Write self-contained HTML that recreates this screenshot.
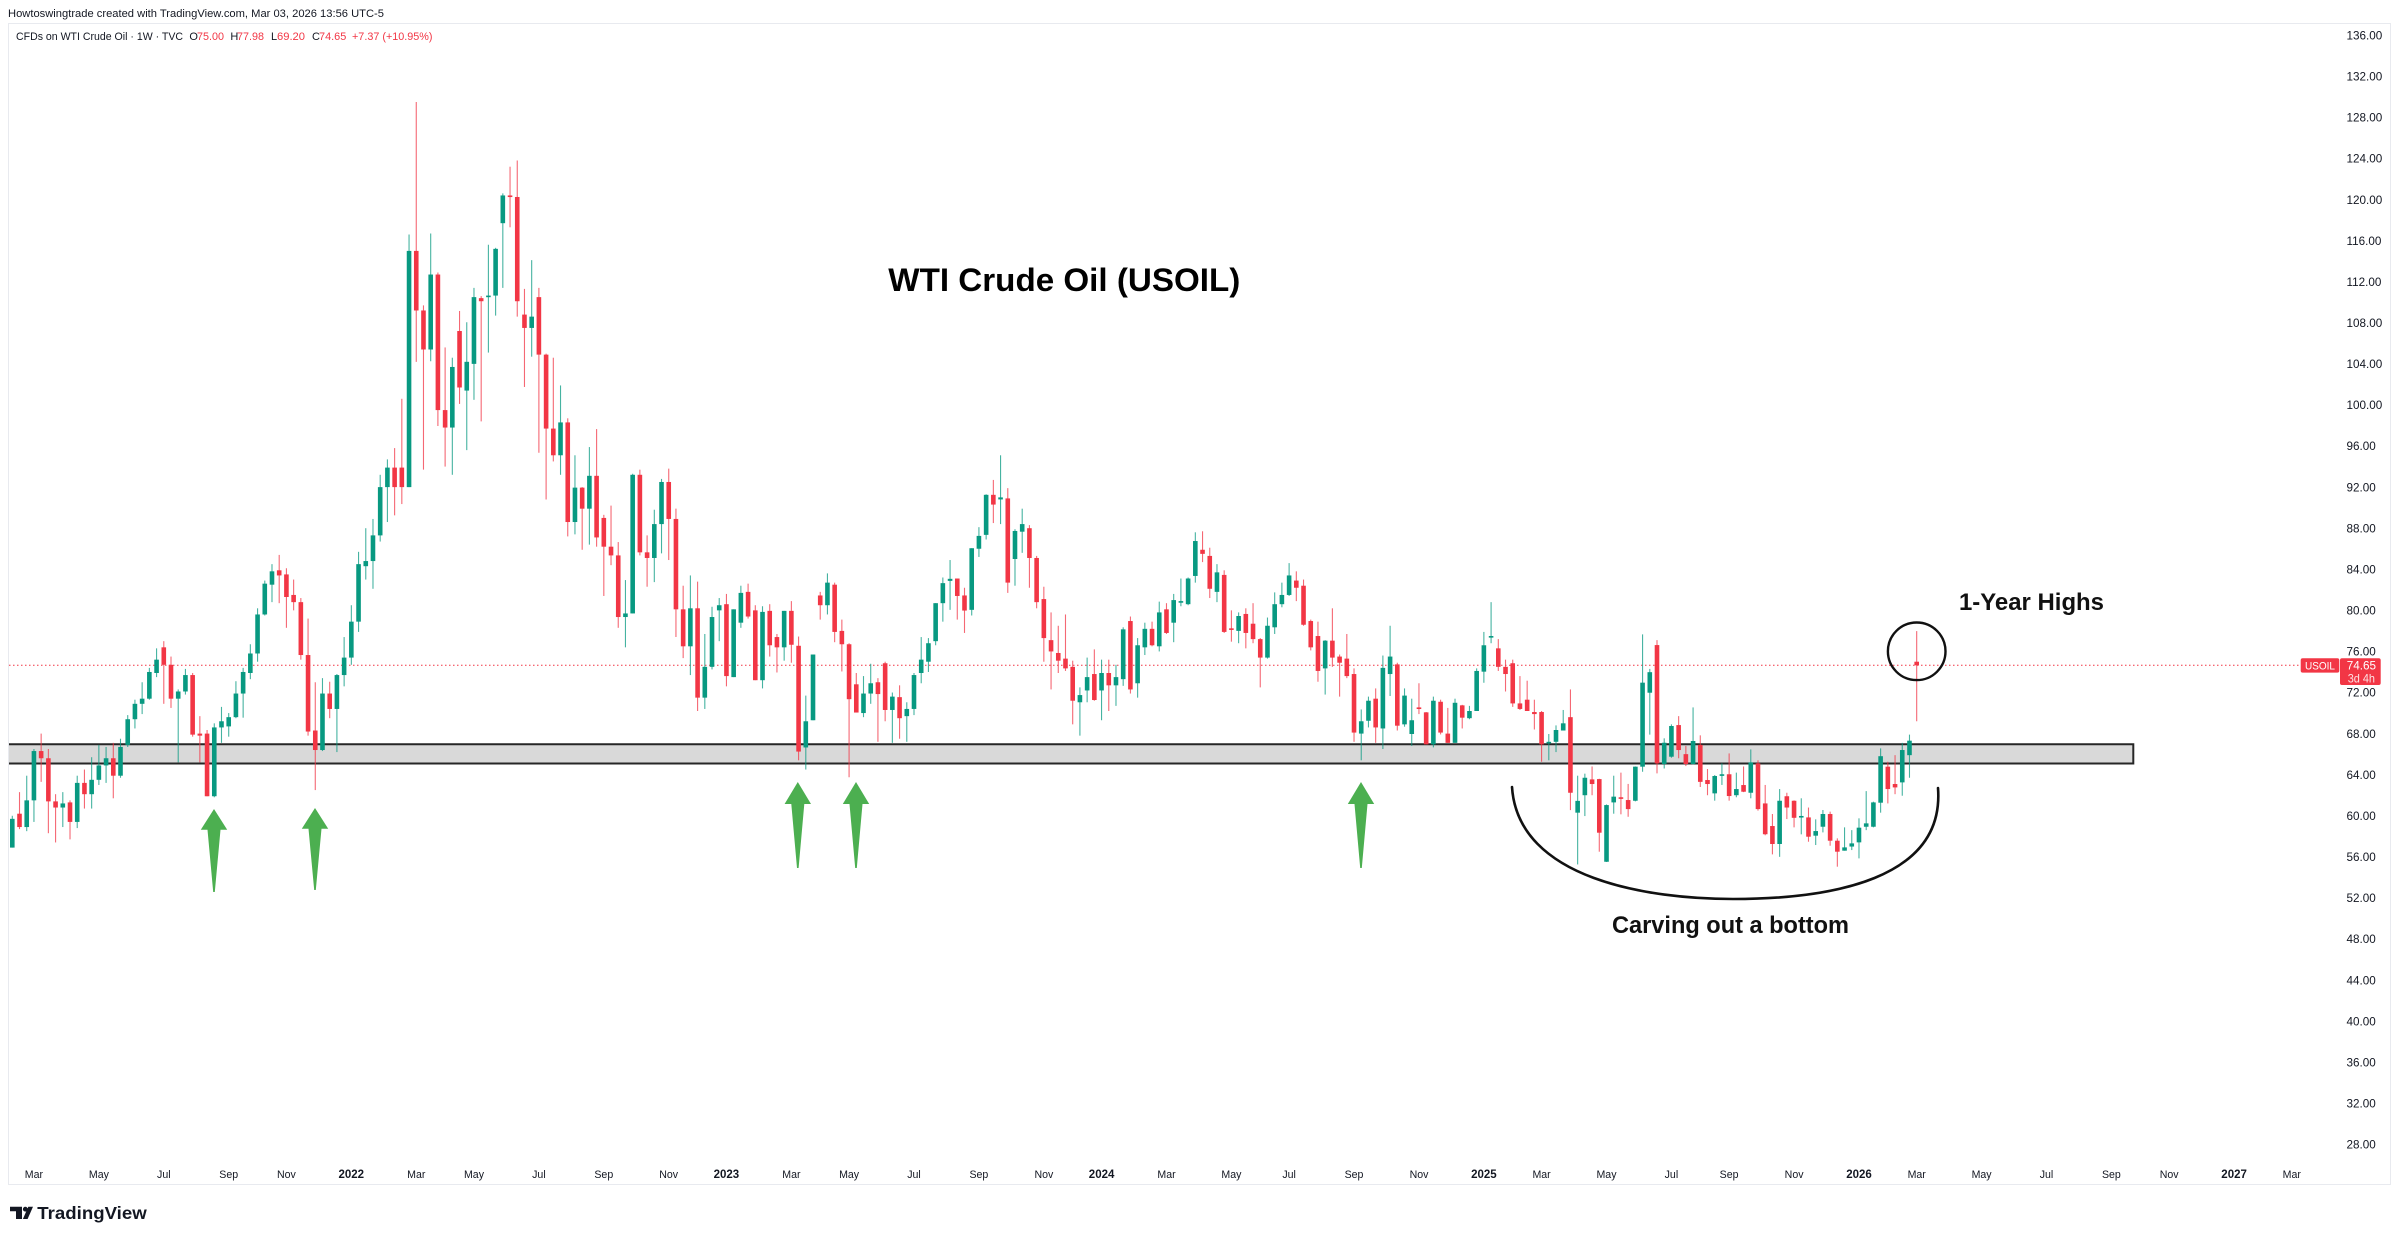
<!DOCTYPE html>
<html>
<head>
<meta charset="utf-8">
<style>
html,body{margin:0;padding:0;background:#fff;width:2400px;height:1238px;overflow:hidden}
svg{display:block}
text{font-family:"Liberation Sans",Arial,sans-serif}
</style>
</head>
<body>
<svg id="chart" width="2400" height="1238" viewBox="0 0 2400 1238" xmlns="http://www.w3.org/2000/svg">
<rect x="0" y="0" width="2400" height="1238" fill="#ffffff"/>
<!-- pane border -->
<rect x="8.5" y="23.5" width="2382" height="1161" fill="none" stroke="#e8eaef" stroke-width="1"/>

<!-- header -->
<text x="8" y="17" font-size="11" fill="#131722" textLength="376" lengthAdjust="spacingAndGlyphs">Howtoswingtrade created with TradingView.com, Mar 03, 2026 13:56 UTC-5</text>
<text x="16" y="40" font-size="11" fill="#131722" textLength="167" lengthAdjust="spacingAndGlyphs">CFDs on WTI Crude Oil · 1W · TVC</text>
<text x="189.4" y="40" font-size="11" fill="#131722">O</text>
<text x="197" y="40" font-size="11" fill="#f23645" textLength="27" lengthAdjust="spacingAndGlyphs">75.00</text>
<text x="230.4" y="40" font-size="11" fill="#131722">H</text>
<text x="237" y="40" font-size="11" fill="#f23645" textLength="27" lengthAdjust="spacingAndGlyphs">77.98</text>
<text x="271" y="40" font-size="11" fill="#131722">L</text>
<text x="277" y="40" font-size="11" fill="#f23645" textLength="28" lengthAdjust="spacingAndGlyphs">69.20</text>
<text x="312" y="40" font-size="11" fill="#131722">C</text>
<text x="319" y="40" font-size="11" fill="#f23645" textLength="27.3" lengthAdjust="spacingAndGlyphs">74.65</text>
<text x="352" y="40" font-size="11" fill="#f23645" textLength="80.5" lengthAdjust="spacingAndGlyphs">+7.37 (+10.95%)</text>

<!-- support box -->
<rect x="9" y="744.3" width="2124.3" height="19.2" fill="#d9d9d9"/>
<path d="M9,744.3 H2133.3 V763.5 H9" fill="none" stroke="#262626" stroke-width="2"/>

<!-- last price dotted line -->
<line x1="9" y1="665.3" x2="2300" y2="665.3" stroke="#f23645" stroke-width="1" stroke-dasharray="1.5 2.5"/>

<!-- candles -->
<g id="candles"></g>

<!-- green arrows -->
<g fill="#4caf50">
<polygon points="214,809 227.2,829.7 220.5,829.7 214.8,892 213.2,892 207.5,829.7 200.8,829.7"/>
<polygon points="315,808 328.2,828.7 321.5,828.7 315.8,890 314.2,890 308.5,828.7 301.8,828.7"/>
<polygon points="797.8,782 811,804 804.3,804 798.6,868 797,868 791.3,804 784.6,804"/>
<polygon points="856,782 869.2,804 862.5,804 856.8,868 855.2,868 849.5,804 842.8,804"/>
<polygon points="1361,782 1374.2,804 1367.5,804 1361.8,868 1360.2,868 1354.5,804 1347.8,804"/>
</g>

<!-- circle and bottom curve -->
<circle cx="1916.7" cy="651.3" r="28.8" fill="none" stroke="#111" stroke-width="2.4"/>
<path d="M1512,787 C1518,880 1650,899 1733,899 C1830,899 1945,880 1938,788" fill="none" stroke="#111" stroke-width="2.6" stroke-linecap="round"/>

<!-- annotations -->
<text x="888.3" y="291" font-size="32" font-weight="bold" fill="#000" textLength="352" lengthAdjust="spacingAndGlyphs">WTI Crude Oil (USOIL)</text>
<text x="1959" y="610" font-size="24.5" font-weight="bold" fill="#111" textLength="145" lengthAdjust="spacingAndGlyphs">1-Year Highs</text>
<text x="1612" y="933" font-size="24" font-weight="bold" fill="#111" textLength="237" lengthAdjust="spacingAndGlyphs">Carving out a bottom</text>

<!-- price axis labels -->
<g font-size="11.7" fill="#131722">
<text x="2346.5" y="39.4">136.00</text>
<text x="2346.5" y="80.5">132.00</text>
<text x="2346.5" y="121.6">128.00</text>
<text x="2346.5" y="162.7">124.00</text>
<text x="2346.5" y="203.8">120.00</text>
<text x="2346.5" y="244.8">116.00</text>
<text x="2346.5" y="285.9">112.00</text>
<text x="2346.5" y="327.0">108.00</text>
<text x="2346.5" y="368.1">104.00</text>
<text x="2346.5" y="409.2">100.00</text>
<text x="2346.5" y="450.2">96.00</text>
<text x="2346.5" y="491.3">92.00</text>
<text x="2346.5" y="532.4">88.00</text>
<text x="2346.5" y="573.5">84.00</text>
<text x="2346.5" y="614.6">80.00</text>
<text x="2346.5" y="655.6">76.00</text>
<text x="2346.5" y="696.7">72.00</text>
<text x="2346.5" y="737.8">68.00</text>
<text x="2346.5" y="778.9">64.00</text>
<text x="2346.5" y="820.0">60.00</text>
<text x="2346.5" y="861.0">56.00</text>
<text x="2346.5" y="902.1">52.00</text>
<text x="2346.5" y="943.2">48.00</text>
<text x="2346.5" y="984.3">44.00</text>
<text x="2346.5" y="1025.4">40.00</text>
<text x="2346.5" y="1066.4">36.00</text>
<text x="2346.5" y="1107.5">32.00</text>
<text x="2346.5" y="1148.6">28.00</text>
</g>

<!-- price tags -->
<rect x="2300.7" y="658.2" width="38.6" height="14.4" rx="2" fill="#f23645"/>
<text x="2305" y="669.3" font-size="11" fill="#ffffff" textLength="30" lengthAdjust="spacingAndGlyphs">USOIL</text>
<rect x="2340" y="658.2" width="40.7" height="26.8" rx="2" fill="#f23645"/>
<text x="2346.7" y="669.3" font-size="11.7" fill="#ffffff" textLength="29.3" lengthAdjust="spacingAndGlyphs">74.65</text>
<text x="2347.7" y="682.3" font-size="11.7" fill="#ffffff" fill-opacity="0.85" textLength="27.3" lengthAdjust="spacingAndGlyphs">3d 4h</text>

<!-- time axis labels -->
<g font-size="10.6" fill="#131722" text-anchor="middle">
<text x="33.9" y="1178">Mar</text>
<text x="98.9" y="1178">May</text>
<text x="163.8" y="1178">Jul</text>
<text x="228.7" y="1178">Sep</text>
<text x="286.4" y="1178">Nov</text>
<text x="351.3" y="1178" font-weight="bold" font-size="11.5">2022</text>
<text x="416.3" y="1178">Mar</text>
<text x="474.0" y="1178">May</text>
<text x="538.9" y="1178">Jul</text>
<text x="603.8" y="1178">Sep</text>
<text x="668.7" y="1178">Nov</text>
<text x="726.4" y="1178" font-weight="bold" font-size="11.5">2023</text>
<text x="791.4" y="1178">Mar</text>
<text x="849.1" y="1178">May</text>
<text x="914.0" y="1178">Jul</text>
<text x="978.9" y="1178">Sep</text>
<text x="1043.9" y="1178">Nov</text>
<text x="1101.6" y="1178" font-weight="bold" font-size="11.5">2024</text>
<text x="1166.5" y="1178">Mar</text>
<text x="1231.4" y="1178">May</text>
<text x="1289.1" y="1178">Jul</text>
<text x="1354.0" y="1178">Sep</text>
<text x="1419.0" y="1178">Nov</text>
<text x="1483.9" y="1178" font-weight="bold" font-size="11.5">2025</text>
<text x="1541.6" y="1178">Mar</text>
<text x="1606.5" y="1178">May</text>
<text x="1671.4" y="1178">Jul</text>
<text x="1729.1" y="1178">Sep</text>
<text x="1794.1" y="1178">Nov</text>
<text x="1859.0" y="1178" font-weight="bold" font-size="11.5">2026</text>
<text x="1916.7" y="1178">Mar</text>
<text x="1981.6" y="1178">May</text>
<text x="2046.5" y="1178">Jul</text>
<text x="2111.4" y="1178">Sep</text>
<text x="2169.2" y="1178">Nov</text>
<text x="2234.1" y="1178" font-weight="bold" font-size="11.5">2027</text>
<text x="2291.8" y="1178">Mar</text>
</g>

<!-- TradingView logo -->
<g fill="#131722">
<path d="M10,1206.7 H22 V1219 H16 V1211.2 H10 Z"/>
<circle cx="25.3" cy="1209.2" r="2.4"/>
<polygon points="28.3,1206.7 33,1206.7 27.6,1219 22.9,1219"/>
<text x="37.3" y="1219" font-size="17.5" font-weight="bold" textLength="109.4" lengthAdjust="spacingAndGlyphs">TradingView</text>
</g>
</svg>

<script>
(function(){
var D=[
[56.9,60.0,56.9,59.7],[60.2,62.3,58.7,58.9],[58.9,63.9,58.5,61.5],[61.5,66.5,59.4,66.3],[66.3,68.0,63.3,65.6],
[65.6,66.5,58.3,61.4],[61.4,62.1,57.4,60.8],[60.8,62.3,58.9,61.2],[61.3,61.5,57.7,59.4],[59.4,63.9,58.8,63.2],
[63.2,64.5,60.7,62.1],[62.1,65.7,60.7,63.5],[63.5,66.9,63.0,64.9],[64.9,66.7,63.2,65.6],[65.6,67.1,61.7,63.9],
[63.9,67.5,63.7,66.7],[66.9,69.8,66.7,69.4],[69.4,71.3,68.5,70.9],[70.9,73.0,69.9,71.4],[71.4,74.4,71.3,74.0],
[73.9,76.3,73.5,75.2],[76.4,77.0,70.9,74.7],[74.7,75.5,70.5,71.4],[71.4,72.3,65.2,72.1],[72.1,74.3,71.8,73.7],
[73.7,73.9,67.7,67.9],[68.0,69.7,65.2,67.8],[68.0,68.35,61.9,61.9],[61.9,69.0,61.8,68.6],[68.6,70.6,67.1,69.2],
[68.7,70.0,67.7,69.6],[69.6,73.1,69.5,71.9],[71.9,74.4,69.55,74.0],[73.9,76.7,73.3,75.8],[75.8,80.2,75.0,79.6],
[79.6,82.9,79.5,82.6],[82.5,84.5,80.8,83.8],[83.9,85.4,80.7,83.4],[83.5,84.1,78.3,81.3],[81.5,83.0,80.0,80.8],
[80.8,81.2,75.2,75.65],[75.65,79.2,67.8,68.2],[68.3,73.0,62.5,66.4],[66.4,73.4,66.3,71.9],[71.9,73.05,69.5,70.4],
[70.4,73.8,66.2,73.7],[73.7,77.4,72.6,75.4],[75.4,80.5,74.7,78.9],[78.9,85.7,77.9,84.5],[84.3,88.0,83.0,84.8],
[84.8,88.9,82.1,87.3],[87.3,93.2,86.7,92.0],[92.0,94.7,88.6,93.9],[93.9,95.8,89.25,92.0],[93.9,100.6,90.35,92.0],
[92.0,116.6,92.0,115.0],[115.0,129.5,104.2,109.2],[109.2,109.7,93.7,105.4],[105.4,116.7,104.25,112.7],[112.7,112.9,97.95,99.5],
[99.5,105.6,94.0,97.8],[97.8,104.6,93.2,103.7],[107.2,109.15,100.1,101.7],[101.4,108.05,95.6,104.2],[104.0,111.4,100.5,110.5],
[110.4,110.6,98.4,110.1],[110.5,115.6,105.1,110.65],[110.65,115.3,108.7,115.2],[117.7,120.6,111.4,120.4],[120.4,123.2,117.3,120.25],
[120.25,123.8,108.6,110.1],[108.8,111.3,101.75,107.5],[107.5,114.1,104.7,108.6],[110.5,111.4,95.35,104.9],[104.9,105.0,90.8,97.7],
[97.7,104.6,94.5,95.1],[95.1,101.9,93.2,98.3],[98.3,98.7,87.2,88.6],[88.6,95.1,87.4,91.95],[91.95,92.0,85.9,89.9],
[89.9,95.9,86.4,93.1],[93.1,97.65,86.2,87.1],[89.0,89.3,81.4,86.2],[86.2,90.2,84.4,85.35],[85.35,86.65,78.3,79.35],
[79.35,82.95,76.4,79.7],[79.7,93.3,79.7,93.2],[93.2,93.7,85.35,85.65],[85.65,87.3,82.3,85.1],[85.1,89.8,82.75,88.4],
[88.4,92.8,85.55,92.5],[92.5,93.8,84.9,88.9],[88.9,89.9,77.4,80.1],[80.1,82.4,75.35,76.5],[76.5,83.4,73.7,80.2],
[80.2,82.8,70.2,71.5],[71.5,77.7,70.4,74.5],[74.5,80.35,74.25,79.35],[80.0,81.2,77.0,80.5],[80.6,81.6,72.6,73.6],
[73.5,80.1,73.5,80.1],[78.8,82.4,78.3,81.7],[81.8,82.6,79.2,79.4],[80.0,80.5,73.2,73.2],[73.2,80.4,72.4,79.85],
[79.95,80.6,75.5,76.6],[77.4,77.7,73.95,76.4],[76.4,79.95,75.1,79.95],[79.95,80.9,74.9,76.65],[76.55,77.45,65.4,66.25],
[66.65,71.7,64.5,69.2],[69.3,75.7,69.3,75.7],[81.45,81.8,79.1,80.5],[80.5,83.6,79.6,82.7],[82.5,82.7,76.9,77.9],
[78.0,79.1,74.05,76.7],[76.7,76.8,63.75,71.35],[72.8,73.9,70.05,70.05],[70.0,73.6,69.6,71.9],[71.9,74.8,70.9,72.9],
[73.0,73.4,67.2,71.85],[74.85,75.0,69.2,70.3],[70.3,72.0,67.1,71.6],[71.55,72.7,67.5,69.5],[69.7,71.05,67.2,70.4],
[70.4,73.9,69.8,73.7],[73.9,77.4,72.9,75.2],[75.0,77.3,74.0,76.8],[77.0,80.7,76.6,80.7],[80.7,83.2,78.9,82.65],
[82.87,84.9,80.05,83.07],[83.1,83.1,79.1,81.4],[81.45,82.2,77.8,79.98],[80.05,86.05,79.5,86.05],[86.0,88.1,85.2,87.25],
[87.35,91.3,86.9,91.25],[91.25,92.7,88.5,90.3],[90.8,95.1,88.4,91.0],[90.9,91.9,81.7,82.7],[85.0,87.9,82.4,87.73],
[87.66,89.9,85.6,88.4],[88.0,88.3,82.2,85.1],[85.1,85.3,80.2,80.8],[81.1,82.3,75.0,77.3],[77.1,79.8,72.3,76.0],
[75.85,78.5,73.9,75.1],[75.3,79.6,74.1,74.35],[74.5,75.1,68.9,71.2],[71.05,72.5,67.8,71.75],[72.2,75.4,71.05,73.5],
[73.8,76.2,71.2,71.27],[72.2,75.2,69.3,73.9],[73.9,75.2,70.2,72.7],[72.7,74.7,70.7,73.5],[73.3,78.35,72.65,78.15],
[78.96,79.4,71.9,72.3],[72.9,77.3,71.5,76.6],[76.4,78.8,75.65,78.2],[78.2,78.9,76.5,76.6],[76.5,80.85,76.0,79.8],
[80.1,80.7,77.7,77.8],[78.8,81.6,76.9,81.0],[80.75,83.1,80.4,80.9],[80.6,83.2,80.5,83.1],[83.35,87.6,82.7,86.75],
[85.9,87.7,84.7,85.5],[85.3,86.1,81.2,82.1],[81.8,84.5,80.8,83.7],[83.45,83.9,77.8,77.9],[78.25,80.0,76.95,78.15],
[78.0,79.8,76.8,79.45],[79.65,80.2,76.3,77.8],[78.7,80.7,76.8,77.2],[77.2,77.3,72.5,75.4],[75.4,79.3,75.3,78.5],
[78.35,81.75,77.7,80.6],[80.6,82.7,80.3,81.5],[81.5,84.6,81.4,83.4],[82.9,83.8,80.9,82.2],[82.4,83.0,78.5,78.6],
[78.96,79.1,76.1,76.4],[77.5,78.9,73.05,74.1],[74.35,77.1,71.8,77.05],[77.05,80.2,74.5,75.4],[75.5,75.7,71.6,74.9],
[75.3,77.7,73.4,73.6],[73.8,74.35,67.2,68.1],[68.0,70.35,65.4,69.2],[69.25,71.6,68.6,71.2],[71.4,72.4,67.1,68.6],
[68.5,75.6,66.5,74.4],[73.8,78.5,71.66,75.5],[74.74,74.9,68.3,68.77],[68.9,72.4,68.67,71.7],[67.96,71.4,66.8,69.3],
[70.55,72.9,69.9,70.4],[70.07,70.1,66.95,66.95],[66.95,71.6,66.66,71.2],[71.1,71.3,67.92,68.1],[68.0,70.5,67.1,67.1],
[67.1,71.4,67.1,71.0],[70.75,70.8,68.5,69.55],[69.5,70.7,69.4,70.2],[70.2,74.35,70.2,74.1],[74.03,77.9,72.95,76.6],
[77.4,80.8,76.8,77.5],[76.3,77.2,74.1,74.5],[74.5,75.2,72.1,73.8],[74.85,75.2,70.6,70.94],[70.94,73.6,70.3,70.4],
[71.3,73.15,70.2,70.2],[70.1,71.3,68.4,69.9],[70.1,70.2,65.26,66.95],[67.05,67.96,65.4,67.2],[67.2,68.8,66.2,68.35],
[68.3,70.3,68.3,69.0],[69.6,72.3,60.55,62.24],[60.3,63.9,55.26,61.45],[62.0,64.1,59.97,63.7],[63.54,64.8,62.0,63.09],
[63.57,63.6,56.5,58.35],[55.52,61.1,55.5,61.04],[61.3,63.9,60.2,61.86],[61.8,64.2,60.14,61.7],[61.53,63.1,59.9,60.65],
[61.46,64.8,61.4,64.78],[64.78,77.66,64.29,72.96],[71.98,74.3,67.9,73.98],[76.62,77.1,64.13,65.1],[65.04,67.54,64.6,67.11],
[65.75,68.9,65.65,68.74],[68.83,69.7,65.6,66.4],[66.0,66.8,64.84,65.04],[65.04,70.55,65.0,67.28],[66.9,67.83,62.8,63.3],
[63.48,64.55,62.0,63.09],[62.18,63.96,61.47,63.87],[63.9,65.1,63.0,64.04],[64.04,66.07,61.47,61.92],[62.0,64.2,61.8,62.6],
[62.99,64.8,62.3,62.34],[62.24,66.46,61.7,65.2],[65.1,65.4,60.5,60.65],[61.2,63.0,58.1,58.2],[59.0,60.17,56.24,57.25],
[57.25,62.6,56.0,61.46],[61.9,62.24,59.68,60.8],[61.46,61.5,58.87,59.8],[59.93,61.7,58.19,59.98],[59.84,60.8,57.47,57.96],
[58.06,59.65,57.15,58.51],[58.93,60.56,58.38,60.17],[60.17,60.4,57.08,57.57],[57.57,57.8,55.04,56.5],[56.6,58.87,56.6,56.92],
[57.0,58.6,56.66,57.31],[57.41,59.75,55.85,58.84],[58.93,62.4,58.6,59.26],[58.93,61.37,58.87,61.3],[61.27,66.56,60.3,65.8],
[64.78,65.26,61.2,62.6],[63.09,65.9,62.1,62.76],[63.25,67.1,61.95,66.4],[65.9,67.9,63.7,67.31],[75.00,77.98,69.20,74.65]
];
var NS="http://www.w3.org/2000/svg";
var g=document.getElementById("candles");
function Y(p){return 665.3-(p-74.65)*10.27;}
for(var i=0;i<D.length;i++){
  var o=D[i][0],h=D[i][1],l=D[i][2],c=D[i][3];
  var x=12.3+i*7.2136;
  var col=(c>=o)?"#089981":"#f23645";
  var ln=document.createElementNS(NS,"line");
  ln.setAttribute("x1",x.toFixed(2));ln.setAttribute("x2",x.toFixed(2));
  ln.setAttribute("y1",Y(h).toFixed(2));ln.setAttribute("y2",Y(l).toFixed(2));
  ln.setAttribute("stroke",col);ln.setAttribute("stroke-width","1.1");ln.setAttribute("stroke-opacity","0.75");
  g.appendChild(ln);
  var yt=Y(Math.max(o,c)),yb=Y(Math.min(o,c));
  var bh=Math.max(yb-yt,1.6);
  var r=document.createElementNS(NS,"rect");
  r.setAttribute("x",(x-2.3).toFixed(2));r.setAttribute("y",yt.toFixed(2));
  r.setAttribute("width","4.6");r.setAttribute("height",bh.toFixed(2));
  r.setAttribute("fill",col);
  g.appendChild(r);
}
})();
</script>
</body>
</html>
